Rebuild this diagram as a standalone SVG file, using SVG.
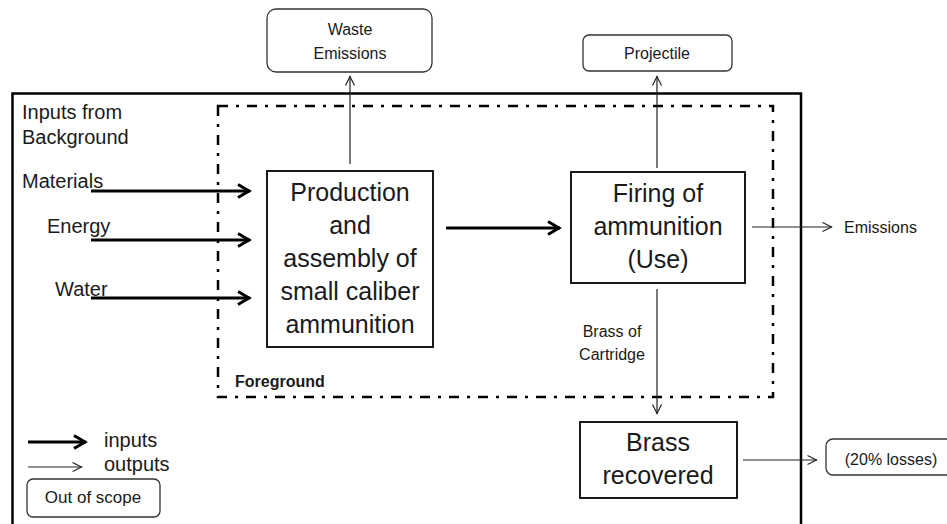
<svg xmlns="http://www.w3.org/2000/svg" width="947" height="524" viewBox="0 0 947 524">
<defs>
<style>
text{font-family:"Liberation Sans",Arial,sans-serif;fill:#1a1a1a}
.big{font-size:25px;text-anchor:middle}
.sm{font-size:16px}
.lab{font-size:20px}
.proc{fill:#fff;stroke:#000;stroke-width:1.8}
.oos{fill:#fff;stroke:#333;stroke-width:1.3}
.thick{stroke:#000;stroke-width:3;fill:none}
.thin{stroke:#222;stroke-width:1.2;fill:none}
</style>
<marker id="ah" markerUnits="userSpaceOnUse" markerWidth="20" markerHeight="20" refX="14" refY="8" orient="auto">
<polyline points="2,1.5 13,8 2,14.5" fill="none" stroke="#000" stroke-width="3"/>
</marker>
<marker id="at" markerUnits="userSpaceOnUse" markerWidth="14" markerHeight="14" refX="10.5" refY="6" orient="auto">
<polyline points="1,1.5 10,6 1,10.5" fill="none" stroke="#222" stroke-width="1.2"/>
</marker>
</defs>
<rect width="947" height="524" fill="#fff"/>
<g id="background">
<rect x="12.5" y="93.5" width="788.5" height="450" fill="none" stroke="#000" stroke-width="2.5"/>
<text class="lab" x="22" y="119">Inputs from</text>
<text class="lab" x="22" y="144">Background</text>
</g>
<g id="foreground">
<rect x="218" y="106" width="555" height="291" fill="none" stroke="#000" stroke-width="2.5" stroke-dasharray="10 8 3 8"/>
<text x="235" y="387" style="font-size:16px;font-weight:bold">Foreground</text>
</g>
<g id="connectors">
<line class="thick" x1="91" y1="191" x2="250" y2="191" marker-end="url(#ah)"/>
<line class="thick" x1="91" y1="240" x2="250" y2="240" marker-end="url(#ah)"/>
<line class="thick" x1="91" y1="298" x2="250" y2="298" marker-end="url(#ah)"/>
<line class="thick" x1="446" y1="228" x2="560" y2="228" marker-end="url(#ah)"/>
<line class="thin" x1="350" y1="164" x2="350" y2="76" marker-end="url(#at)"/>
<line class="thin" x1="657" y1="168" x2="657" y2="76" marker-end="url(#at)"/>
<line class="thin" x1="752" y1="227" x2="832" y2="227" marker-end="url(#at)"/>
<line class="thin" x1="657" y1="289" x2="657" y2="414" marker-end="url(#at)"/>
<line class="thin" x1="743" y1="460" x2="817" y2="460" marker-end="url(#at)"/>
</g>
<g id="materials"><text class="lab" x="22" y="188">Materials</text></g>
<g id="energy"><text class="lab" x="47" y="233">Energy</text></g>
<g id="water"><text class="lab" x="55" y="296">Water</text></g>
<g id="production">
<rect class="proc" x="267" y="171" width="166" height="176"/>
<text class="big" x="350" y="201">Production</text>
<text class="big" x="350" y="234">and</text>
<text class="big" x="350" y="267">assembly of</text>
<text class="big" x="350" y="300">small caliber</text>
<text class="big" x="350" y="333">ammunition</text>
</g>
<g id="firing">
<rect class="proc" x="571" y="172" width="174" height="111"/>
<text class="big" x="658" y="202">Firing of</text>
<text class="big" x="658" y="235">ammunition</text>
<text class="big" x="658" y="268">(Use)</text>
</g>
<g id="waste">
<rect class="oos" x="267" y="9" width="165" height="63" rx="9"/>
<text class="sm" x="350" y="35" text-anchor="middle">Waste</text>
<text class="sm" x="350" y="59" text-anchor="middle">Emissions</text>
</g>
<g id="projectile">
<rect class="oos" x="583" y="35" width="149" height="36" rx="6"/>
<text class="sm" x="657" y="59" text-anchor="middle">Projectile</text>
</g>
<g id="emissions"><text class="sm" x="844" y="233">Emissions</text></g>
<g id="brass-label">
<text class="sm" x="612" y="337" text-anchor="middle">Brass of</text>
<text class="sm" x="612" y="360" text-anchor="middle">Cartridge</text>
</g>
<g id="brass">
<rect class="proc" x="580" y="422" width="157" height="76"/>
<text class="big" x="658" y="451">Brass</text>
<text class="big" x="658" y="484">recovered</text>
</g>
<g id="losses">
<rect class="oos" x="826" y="439" width="135" height="36" rx="7"/>
<text class="sm" x="891" y="465" text-anchor="middle">(20% losses)</text>
</g>
<g id="legend">
<line class="thick" x1="28" y1="442" x2="86" y2="442" marker-end="url(#ah)"/>
<text class="lab" x="104" y="447">inputs</text>
<line class="thin" x1="28" y1="467" x2="82" y2="467" marker-end="url(#at)"/>
<text class="lab" x="104" y="471">outputs</text>
</g>
<g id="out-of-scope">
<rect class="oos" x="27" y="479" width="133" height="38" rx="6"/>
<text x="93" y="503" text-anchor="middle" style="font-size:17px">Out of scope</text>
</g>
</svg>
